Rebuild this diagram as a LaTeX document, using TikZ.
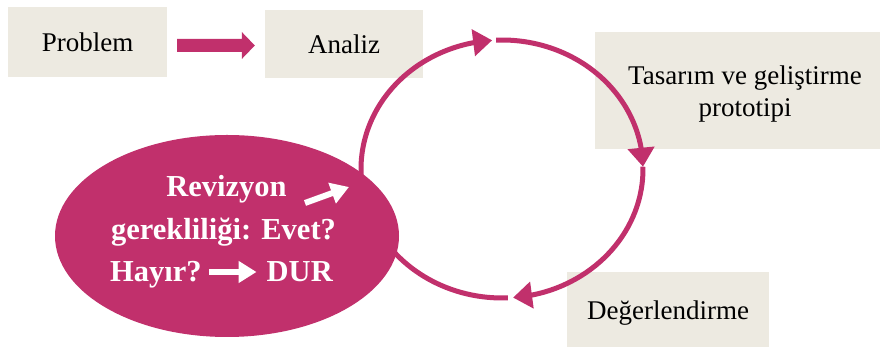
\documentclass[tikz,border=0pt]{standalone}
\usepackage{fontspec}
\setmainfont{Liberation Serif}
\usetikzlibrary{arrows.meta,bending,calc,shapes.geometric}
\definecolor{mag}{HTML}{C1306C}
\definecolor{beige}{HTML}{EDEAE1}
\tikzset{
  box/.style={fill=beige, draw=none, inner sep=0pt},
  lbl/.style={font=\fontsize{27}{32}\selectfont, text=black, inner sep=0pt, anchor=base},
  ovtxt/.style={font=\fontsize{30.5}{42}\selectfont\bfseries, text=white, inner sep=0pt, anchor=base},
  cyc/.style={draw=mag, line width=5pt, -{Triangle[length=19pt,width=26pt,flex]}},
  cycplain/.style={draw=mag, line width=5pt},
  whitearr/.style={draw=white, line width=6pt, -{Triangle[length=18pt,width=21pt]}},
}
\begin{document}
\begin{tikzpicture}[x=1pt,y=1pt]
\clip (0,0) rectangle (880,347);
\fill[white] (0,0) rectangle (880,347);
% boxes
\node[box, minimum width=159pt, minimum height=70pt] (problem) at (87.5,305) {};
\node[lbl] (problemtxt) at ([yshift=-10pt]problem.center) {Problem};
\node[box, minimum width=158pt, minimum height=68pt] (analiz) at (344,303) {};
\node[lbl] (aneliztxt) at ([yshift=-10pt]analiz.center) {Analiz};
\node[box, minimum width=300pt, minimum height=117pt] (tasarim) at (745,256.5) {};
\node[lbl] (tas1) at (745,262) {Tasarım ve geliştirme};
\node[lbl] (tas2) at (745,230) {prototipi};
\node[box, minimum width=202pt, minimum height=78pt] (deger) at (668,36) {};
\node[lbl] (degertxt) at (668,27) {Değerlendirme};
% block arrow
\coordinate (ba) at ($(problem.east)+(10,-3.5)$);
\coordinate (bt) at ($(analiz.west)+(-10,-1.5)$);
\fill[mag] ($(ba)+(0,6.5)$) -- ($(bt)+(-13,6.5)$) -- ($(bt)+(-13,13.5)$) -- (bt)
  -- ($(bt)+(-13,-13.5)$) -- ($(bt)+(-13,-6.5)$) -- ($(ba)+(0,-6.5)$) -- cycle;
% cycle
\coordinate (c) at (502,178);
\draw[cyc] ($(c)+(205:141 and 129)$) arc[start angle=205, end angle=94, x radius=141, y radius=129];
\draw[cyc] ($(c)+(92.4:141 and 129)$) arc[start angle=92.4, end angle=1, x radius=141, y radius=129];
\draw[cyc] ($(c)+(1:141 and 129)$) arc[start angle=1, end angle=-85.5, x radius=141, y radius=129];
\draw[cycplain] ($(c)+(-87.6:141 and 129)$) arc[start angle=-87.6, end angle=-155, x radius=141, y radius=129];
% oval
\node[ellipse, fill=mag, minimum width=344pt, minimum height=202pt, inner sep=0pt] (oval) at (227,111) {};
\node[ovtxt] (rev) at (226.5,150) {Revizyon};
\node[ovtxt] (ger) at (223.5,107) {gerekliliği: Evet?};
\node[ovtxt, anchor=base west] (hayir) at (110,65) {Hayır?};
\node[ovtxt, anchor=base east] (dur) at (333,65) {DUR};
\coordinate (wa1) at (305,144);
\coordinate (wa2) at (349,160);
\draw[whitearr] (wa1) -- (wa2);
\draw[whitearr] ([xshift=7pt,yshift=10pt]hayir.base east) -- ([xshift=-10pt,yshift=10pt]dur.base west);
\end{tikzpicture}
\end{document}
